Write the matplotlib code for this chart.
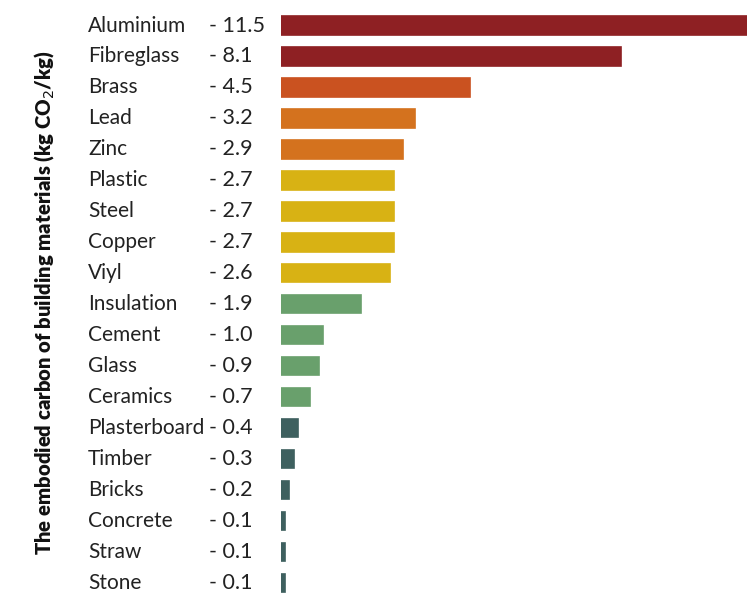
import matplotlib.pyplot as plt

materials = ["Aluminium", "Fibreglass", "Brass", "Lead", "Zinc", "Plastic", "Steel",
             "Copper", "Viyl", "Insulation", "Cement", "Glass", "Ceramics",
             "Plasterboard", "Timber", "Bricks", "Concrete", "Straw", "Stone"]
carbon = [11.5, 8.1, 4.5, 3.2, 2.9, 2.7, 2.7, 2.7, 2.6, 1.9, 1.0, 0.9, 0.7,
          0.4, 0.3, 0.2, 0.1, 0.1, 0.1]
groups = ["red", "red", "brass", "orange", "orange", "yellow", "yellow", "yellow",
          "yellow", "green", "green", "green", "green", "teal", "teal", "teal",
          "teal", "teal", "teal"]

palette = {"red": "#8e2023", "brass": "#ca5220", "orange": "#d4721e",
           "yellow": "#d8b214", "green": "#69a06c", "teal": "#3e605f"}

plt.rcParams['font.family'] = ['Lato', 'DejaVu Sans']

fig = plt.figure(figsize=(7.47, 5.94), dpi=100)
ax = fig.add_axes([281 / 747, 0, 1 - 281 / 747, 1])

ypos = list(range(len(materials)))
ax.barh(ypos, carbon, height=0.6, color=[palette[g] for g in groups],
        edgecolor=[palette[g] for g in groups], linewidth=1.2)
ax.set_xlim(0, 11.1)
ax.set_ylim(18.36, -0.823)
ax.axis("off")

# labels on the left, in figure pixels
for i, (name, val) in enumerate(zip(materials, carbon)):
    ypx = 25.5 + 30.97 * i
    fy = 1 - ypx / 594
    fig.text(88 / 747, fy, name, ha="left", va="center", fontsize=15, color="#222222")
    fig.text(209 / 747, fy, "- %.1f" % val, ha="left", va="center", fontsize=15.5, color="#222222")

fig.text(44 / 747, 1 - 303 / 594, "The embodied carbon of building materials (kg CO$_2$/kg)",
         rotation=90, ha="center", va="center", fontsize=14.6, fontweight="heavy", color="#111111")

fig.savefig("out.png", dpi=100)
